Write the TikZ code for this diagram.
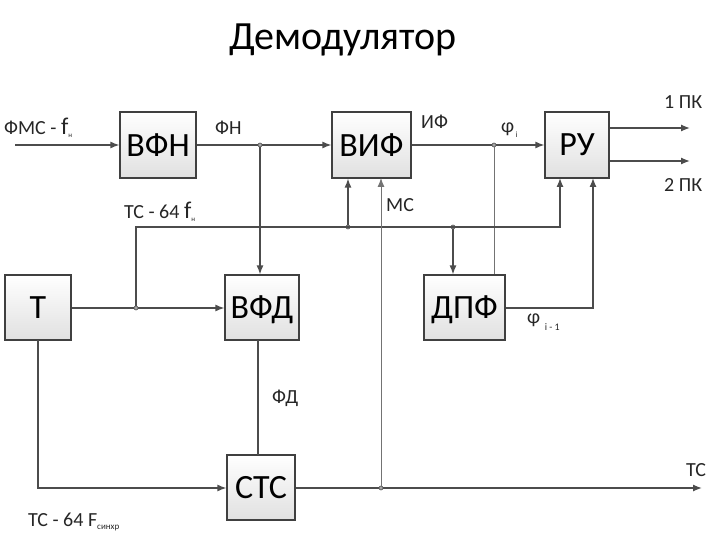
\documentclass[tikz,border=0pt]{standalone}
\usepackage{fontspec}
\setmainfont{Carlito}
\usetikzlibrary{arrows.meta}
\begin{document}
\begin{tikzpicture}[x=1pt,y=-1pt,
  blk/.style={draw=black!75,line width=1.2pt,top color=white,bottom color=black!12,inner sep=0pt,font=\fontsize{34}{34}\selectfont,text depth=0pt},
  ln/.style={draw=black!70,line width=1.3pt},
  thin/.style={draw=black!55,line width=0.9pt},
  arr/.style={-{Latex[length=9pt,width=7pt]}},
  dot/.style={circle,draw=black!70,fill=black!35,line width=0.6pt,inner sep=0pt,minimum size=4pt},
  lab/.style={font=\fontsize{20}{20}\selectfont,text=black!85,inner sep=0pt,anchor=west}]
\useasboundingbox (0,0) rectangle (720,540);
\node[font=\fontsize{40}{40}\selectfont] (title) at (343,40) {Демодулятор};
\node[blk,minimum width=76pt,minimum height=66pt] (vfn) at (158,145) {ВФН};
\node[blk,minimum width=79pt,minimum height=66pt] (vif) at (371.5,145) {ВИФ};
\node[blk,minimum width=64pt,minimum height=66pt] (ru) at (577,145) {РУ};
\node[blk,minimum width=66pt,minimum height=65pt] (t) at (38,307.5) {Т};
\node[blk,minimum width=74pt,minimum height=65pt] (vfd) at (262,307.5) {ВФД};
\node[blk,minimum width=81pt,minimum height=65pt] (dpf) at (464.5,307.5) {ДПФ};
\node[blk,minimum width=68pt,minimum height=65pt] (sts) at (261,487.5) {СТС};
\coordinate (in) at (15,145);
\coordinate (o1) at (690,128);
\coordinate (o2) at (690,161);
\coordinate (oTS) at (702,488);
\node[dot] (d1) at (260,145) {};
\node[dot] (d2) at (494,145) {};
\node[dot] (d3) at (136,308) {};
\node[dot] (d4) at (348,227) {};
\node[dot] (d5) at (453,227) {};
\node[dot] (d6) at (381,488) {};
% connectors
\draw[ln,arr] (in) -- (vfn.west|-in);
\draw[ln] (vfn.east) -- (d1);
\draw[ln,arr] (d1) -- (vif.west);
\draw[ln,arr] (d1) -- (d1|-vfd.north);
\draw[ln] (vif.east) -- (d2);
\draw[ln,arr] (d2) -- (ru.west);
\draw[thin] (d2) -- (d2|-dpf.north);
\draw[ln,arr] (ru.east|-o1) -- (o1);
\draw[ln,arr] (ru.east|-o2) -- (o2);
\draw[ln] (t.east|-d3) -- (d3);
\draw[ln,arr] (d3) -- (vfd.west|-d3);
\draw[ln,arr] (d3) -- (136,227) -- (560,227) -- (560,178);
\draw[ln,arr] (d4) -- (d4|-vif.south);
\draw[ln,arr] (d5) -- (d5|-dpf.north);
\draw[ln,arr] (dpf.east|-d3) -- (593,308) -- (593,178);
\draw[ln,arr] (38,340) -- (38,488) -- (sts.west|-d6);
\draw[ln] (258,340) -- (258,455);
\draw[ln] (sts.east|-d6) -- (d6);
\draw[ln,arr] (d6) -- (oTS);
\draw[thin,arr] (d6) -- (381,178);
% labels
\node[lab] at (4,128) {ФМС - {\fontsize{24}{24}\selectfont f}\raisebox{-3pt}{\fontsize{7}{7}\selectfont н}};
\node[lab] at (215,128) {ФН};
\node[lab] at (421,122) {ИФ};
\node[lab] at (501,130) {φ\raisebox{-5pt}{\fontsize{8}{8}\selectfont \,i}};
\node[lab] at (664,102) {1 ПК};
\node[lab] at (664,185) {2 ПК};
\node[lab] at (124,212) {ТС - 64 {\fontsize{24}{24}\selectfont f}\raisebox{-3pt}{\fontsize{7}{7}\selectfont н}};
\node[lab] at (386,205) {МС};
\node[lab] at (527,322) {φ\raisebox{-7pt}{\fontsize{10}{10}\selectfont \ \ i - 1}};
\node[lab] at (272,398) {ФД};
\node[lab] at (686,470) {ТС};
\node[lab] at (28,522) {ТС - 64 F\raisebox{-3pt}{\fontsize{9}{9}\selectfont синхр}};
\end{tikzpicture}
\end{document}
